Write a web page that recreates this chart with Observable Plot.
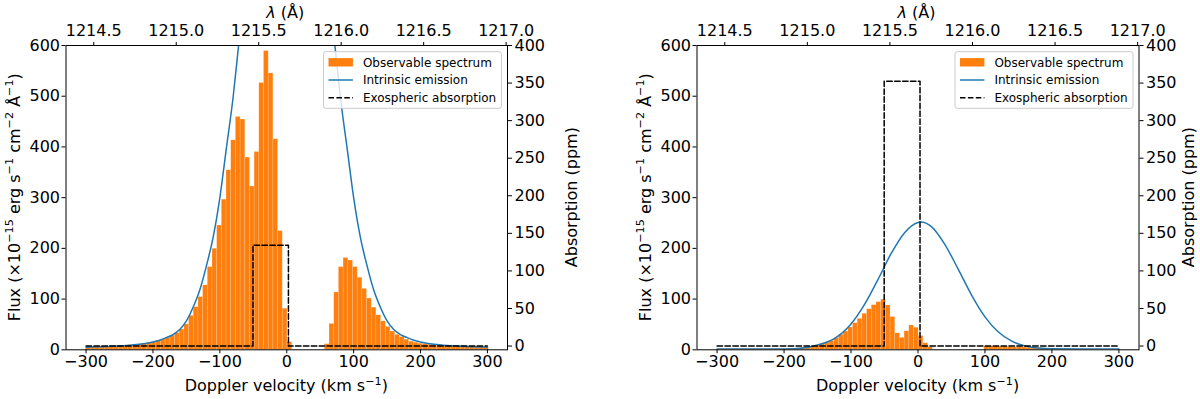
<!DOCTYPE html>
<html>
<head>
<meta charset="utf-8">
<script src="https://cdn.jsdelivr.net/npm/d3@7"></script>
<script src="https://cdn.jsdelivr.net/npm/@observablehq/plot@0.6"></script>
<style>
  body { margin: 0; background: #ffffff; }
  #fig { position: relative; width: 1200px; height: 399px; overflow: hidden; font-family: "DejaVu Sans"; }
  #fig svg { position: absolute; top: 0; }
</style>
</head>
<body>
<div id="fig"></div>
<script>
// ---------- data ----------
const LAMBDA0 = 1215.67;          // Lyman-alpha rest wavelength (Å)
const C_KMS = 299792.458;         // speed of light (km/s)

// histogram bin edges (km/s)
const binEdges = [-300,-293,-286,-279,-272,-265,-258,-251,-244,-237,-230,-223,-216,-209,-202,-195,-188,-181,-174,-167,
  -160,-153,-146,-139,-132,-125,-118,-111,-104,-97,-90,-83,-76,-69,-62,-55,-48,-41,-34,-27,-20,-13,-6,1,8,15,22,29,36,43,
  50,57,64,71,78,85,92,99,106,113,120,127,134,141,148,155,162,169,176,183,190,197,204,211,218,225,232,239,246,253,260,267,
  274,281,288,295,302];

// observable spectrum (flux per bin), left panel
const fluxLeft = [5.2,5.5,5.8,6.1,6.4,6.8,7.2,7.8,8.4,9.1,9.9,10.8,12,13.3,
  15,17.5,20.5,24,28,33,40,50,
  67,84,104,127,163,199,245,296,354,413,459,454,379,322,390,526,589,545,415,234,81,15,
  0,0,0,0,0,0,0,
  11,51,113,163,181,176,163,142,120,101,83,68,56,45,36,29.5,25,20,16,14,12,11,
  10,9.5,8.8,8.2,7.6,7.1,6.7,6.3,6,5.7,5.4,5.2,5];

// observable spectrum (flux per bin), right panel
const fluxRight = [1.2,1.2,1.2,1.2,1.2,1.2,1.2,1.2,1.2,1.2,1.2,1.2,1.2,1.2,
  1.5,2,2.5,3,4,5,6.5,8.5,
  11,14,17.5,23,29.5,36,44,52.5,61,71,80,88,94,98.7,87.5,64.5,32.5,23.5,36.5,48,43.5,27,13,5,
  0,0,0,0,0,0,0,0,0,0,0,
  6.5,6.5,6.5,6,6,5.5,5,5,4.5,4,3.5,3,3,2.5,
  0,0,0,0,0,0,0,0,0,0,0,0,0,0,0];

// intrinsic emission, left panel
const emisVelLeft = [-300,-280,-260,-240,-220,-200,-190,-180,-170,-160,-150,-140,-130,-120,-110,-100,-90,-80,-72,-60,-40,-20,0,
  20,40,60,72,80,90,100,110,120,130,140,150,160,170,180,190,200,220,240,260,280,300];
const emisFluxLeft = [5.2,6,7,8.5,11,15.5,19,24,30,40,57,84,118,166,222,300,400,500,600,745,975,1150,1210,
  1150,975,745,600,500,400,300,222,166,118,84,57,40,30,24,19,15.5,11,8.5,7,6,5.2];

// intrinsic emission, right panel
const emisVelRight = [-300,-250,-200,-175,-150,-125,-100,-80,-60,-40,-20,0,4,20,40,60,80,100,120,140,160,180,200,250,300];
const emisFluxRight = [1.5,1.5,1.8,3,9.5,22,51,89,138,190,231,251,252,243,208,159,108,65,35,17,7.5,3.5,2,1.5,1.5];

// exospheric absorption (ppm)
const absVelLeft = [-300,-50.5,-50.5,2.5,2.5,300];
const absPpmLeft = [0,0,134,134,0,0];
const absVelRight = [-300,-50.5,-50.5,3,3,300];
const absPpmRight = [0,0,352.5,352.5,0,0];

// ticks
const velTicks = [-300,-200,-100,0,100,200,300];
const fluxTicks = [0,100,200,300,400,500,600];
const lambdaTicks = [1214.5,1215.0,1215.5,1216.0,1216.5,1217.0];
const ppmTicks = [0,50,100,150,200,250,300,350,400];
const legendLabels = ["Observable spectrum","Intrinsic emission","Exospheric absorption"];

// ---------- styling ----------
const ORANGE = "#ff7f0e", BLUE = "#1f77b4";
const FONT = "DejaVu Sans";
const W = 600, H = 399, MT = 45, MB = 49.7;

function richText(svg, x, y, parts, {rotate = 0, anchor = "middle", size = 16} = {}) {
  const t = svg.append("text")
    .attr("transform", `translate(${x},${y}) rotate(${rotate})`)
    .attr("text-anchor", anchor)
    .attr("font-size", size)
    .attr("font-family", FONT)
    .attr("fill", "black");
  let up = false;
  for (const [s, kind] of parts) {
    const ts = t.append("tspan").text(s);
    if (kind === "sup") { ts.attr("font-size", size * 0.7).attr("dy", -size * 0.4); up = true; }
    else if (up) { ts.attr("dy", size * 0.4); up = false; }
    if (kind === "it") ts.attr("font-style", "italic");
  }
  return t;
}

function panel(left, mL, mR, rightLabelOffset, fluxes, ev, ef, av, ap) {
  const bins = fluxes.map((f, i) => ({x1: binEdges[i], x2: binEdges[i + 1], f}));
  const emis = ev.map((v, i) => ({v, f: ef[i]}));
  const abs = av.map((v, i) => ({v, p: ap[i]}));
  const common = {width: W, height: H, marginLeft: mL, marginRight: mR, marginTop: MT, marginBottom: MB};
  const style = {fontFamily: FONT, fontSize: "16px", color: "black", background: "transparent", overflow: "visible"};

  const A = Plot.plot({
    ...common, style,
    x: {domain: [-330, 330]},
    y: {domain: [0, 600]},
    marks: [
      Plot.rectY(bins, {x1: "x1", x2: "x2", y: "f", fill: ORANGE, stroke: "#ffffff", strokeOpacity: 0.22, strokeWidth: 0.6}),
      Plot.line(emis, {x: "v", y: "f", stroke: BLUE, strokeWidth: 1.5, curve: "monotone-x", clip: true}),
      Plot.axisX(velTicks, {anchor: "bottom", tickSize: 4, tickPadding: 2, label: null, tickFormat: d3.format("d")}),
      Plot.axisX(lambdaTicks.map(l => C_KMS * (l / LAMBDA0 - 1)), {anchor: "top", tickSize: 4, tickPadding: 6, label: null,
        tickFormat: v => (LAMBDA0 * (1 + v / C_KMS)).toFixed(1)}),
      Plot.axisY(fluxTicks, {anchor: "left", tickSize: 4, tickPadding: 2, label: null}),
      Plot.frame({stroke: "black", strokeWidth: 1})
    ]
  });

  const B = Plot.plot({
    ...common, style,
    x: {domain: [-330, 330], axis: null},
    y: {domain: [-5, 400]},
    marks: [
      Plot.line(abs, {x: "v", y: "p", stroke: "black", strokeWidth: 1.5, strokeDasharray: "5.5,2.4"}),
      Plot.axisY(ppmTicks, {anchor: "right", tickSize: 4, tickPadding: 3, label: null})
    ]
  });

  A.style.left = left + "px";
  B.style.left = left + "px";
  const fig = document.getElementById("fig");
  fig.appendChild(A);
  fig.appendChild(B);

  const frameL = mL, frameR = W - mR, cx = (frameL + frameR) / 2, cy = (MT + (H - MB)) / 2;
  const sa = d3.select(A);
  richText(sa, cx, 391, [["Doppler velocity (km s"], ["−1", "sup"], [")"]]);
  richText(sa, cx - 1, 18, [["λ", "it"], [" (Å)"]]);
  richText(sa, frameL - 46, cy, [["Flux (×10"], ["−15", "sup"], [" erg s"], ["−1", "sup"], [" cm"], ["−2", "sup"], [" Å"], ["−1", "sup"], [")"]], {rotate: -90});
  const sb = d3.select(B);
  richText(sb, frameR + rightLabelOffset, cy, [["Absorption (ppm)"]], {rotate: -90});

  // legend
  const bw = 178, bh = 56.6, bx = frameR - 5.5 - bw, by = MT + 6.7;
  const g = sb.append("g");
  g.append("rect").attr("x", bx).attr("y", by).attr("width", bw).attr("height", bh).attr("rx", 2.5)
    .attr("fill", "white").attr("fill-opacity", 0.8).attr("stroke", "#cccccc").attr("stroke-width", 1);
  const rows = [by + 10.6, by + 28.3, by + 46];
  g.append("rect").attr("x", bx + 5).attr("y", rows[0] - 4.2).attr("width", 24.4).attr("height", 8.4).attr("fill", ORANGE);
  g.append("line").attr("x1", bx + 5).attr("x2", bx + 29.4).attr("y1", rows[1]).attr("y2", rows[1])
    .attr("stroke", BLUE).attr("stroke-width", 1.5);
  g.append("line").attr("x1", bx + 5).attr("x2", bx + 29.4).attr("y1", rows[2]).attr("y2", rows[2])
    .attr("stroke", "black").attr("stroke-width", 1.5).attr("stroke-dasharray", "5.5,2.4");
  legendLabels.forEach((s, i) => {
    g.append("text").attr("x", bx + 39.4).attr("y", rows[i]).attr("dy", "0.35em")
      .attr("text-anchor", "start")
      .attr("font-size", 12).attr("font-family", FONT).attr("fill", "black").text(s);
  });
}

panel(0, 65.5, 93, 70, fluxLeft, emisVelLeft, emisFluxLeft, absVelLeft, absPpmLeft);
panel(600, 96.5, 61.5, 55, fluxRight, emisVelRight, emisFluxRight, absVelRight, absPpmRight);
</script>
</body>
</html>
